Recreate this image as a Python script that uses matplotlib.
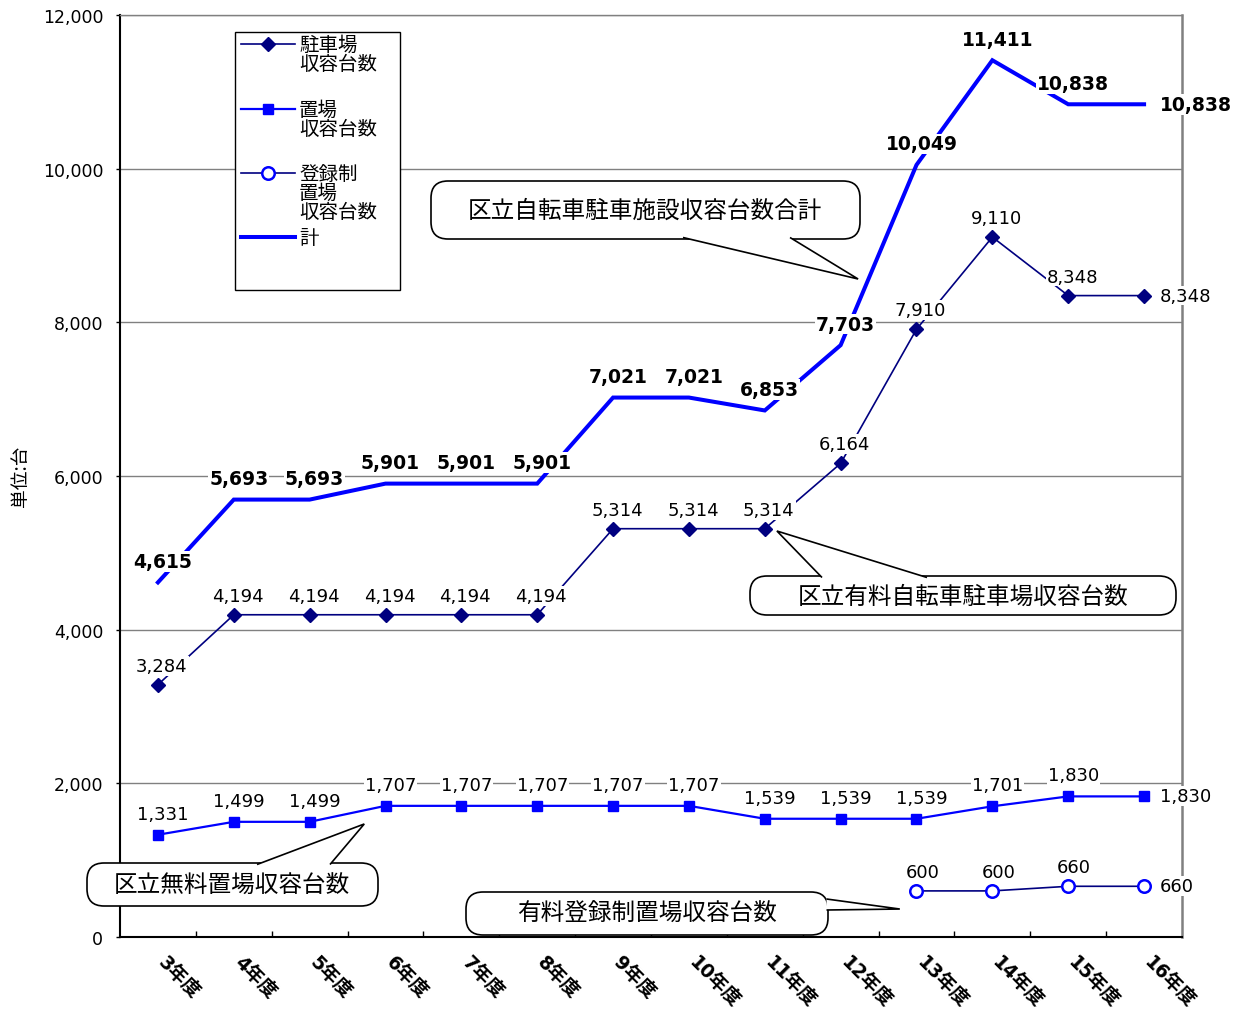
import matplotlib
matplotlib.use("Agg")
import matplotlib.pyplot as plt
import matplotlib.transforms as mtransforms
from matplotlib.patches import FancyBboxPatch, Polygon, Rectangle
from matplotlib.lines import Line2D
import numpy as np

# ---- data -------------------------------------------------------------
years = ["3年度", "4年度", "5年度", "6年度", "7年度", "8年度", "9年度",
         "10年度", "11年度", "12年度", "13年度", "14年度", "15年度", "16年度"]
parking = [3284, 4194, 4194, 4194, 4194, 4194, 5314, 5314, 5314, 6164,
           7910, 9110, 8348, 8348]
free_racks = [1331, 1499, 1499, 1707, 1707, 1707, 1707, 1707, 1539, 1539,
              1539, 1701, 1830, 1830]
registered = [np.nan] * 10 + [600, 600, 660, 660]
total = [4615, 5693, 5693, 5901, 5901, 5901, 7021, 7021, 6853, 7703,
         10049, 11411, 10838, 10838]
y_ticks = [0, 2000, 4000, 6000, 8000, 10000, 12000]

legend_labels = [["駐車場", "収容台数"], ["置場", "収容台数"],
                 ["登録制", "置場", "収容台数"], ["計"]]

NAVY = "#000080"
BLUE = "#0000FF"
GRID = "#808080"
NUM = ["DejaVu Sans", "Noto Sans CJK JP"]
JP = ["Noto Sans CJK JP", "DejaVu Sans"]

W, H = 1241, 1012
fig = plt.figure(figsize=(W / 100, H / 100), dpi=100)
ax = fig.add_axes([120 / W, 1 - 938 / H, (1182 - 120) / W, (938 - 16) / H])

x = np.arange(len(years))
ax.set_xlim(-0.5, len(years) - 0.5)
ax.set_ylim(0, 12000)

# ---- axes styling ------------------------------------------------------
ax.set_yticks(y_ticks)
ax.set_yticklabels([f"{v:,}" for v in y_ticks], family=NUM, fontsize=12.5)
ax.tick_params(axis="y", direction="out", length=3, width=1, pad=9)
ax.yaxis.grid(True, color=GRID, lw=1)
ax.set_axisbelow(True)

ax.set_xticks(np.arange(0.5, len(years) - 1, 1))
ax.set_xticklabels([])
ax.tick_params(axis="x", direction="in", length=4.5, width=1)

for s in ("left", "bottom"):
    ax.spines[s].set_color("black")
    ax.spines[s].set_linewidth(1.5)
ax.spines["top"].set_color(GRID)
ax.spines["top"].set_linewidth(1)
ax.spines["right"].set_color(GRID)
ax.spines["right"].set_linewidth(1.8)

# unit caption on the left
fig.text(21 / W, 1 - 476 / H, "単位:台", family=JP, fontsize=13.5,
         rotation=90, ha="center", va="center")

# category labels, rotated
lab_tr = ax.get_xaxis_transform() + mtransforms.ScaledTranslation(
    10 / 100, -15 / 100, fig.dpi_scale_trans)
for i, name in enumerate(years):
    ax.text(i, 0, name, transform=lab_tr, rotation=-45, rotation_mode="anchor",
            ha="left", va="top", family=NUM, fontsize=13.5, fontweight="bold",
            clip_on=False)

# ---- series -----------------------------------------------------------
ax.plot(x, total, color=BLUE, lw=2.9, zorder=3, solid_joinstyle="miter")
ax.plot(x, parking, color=NAVY, lw=1.2, marker="D", markersize=7.5,
        markerfacecolor=NAVY, markeredgecolor=NAVY, zorder=4)
ax.plot(x, free_racks, color=BLUE, lw=1.6, marker="s", markersize=6.5,
        markerfacecolor=BLUE, markeredgecolor=BLUE, zorder=4)
ax.plot(x, registered, color=NAVY, lw=1.2, marker="o", markersize=9,
        markerfacecolor="white", markeredgecolor=BLUE, markeredgewidth=1.8,
        zorder=4)


def value_labels(vals, dx, dy, bold=False):
    last = len(vals) - 1
    for i, v in enumerate(vals):
        if np.isnan(v):
            continue
        if i == last:
            off, ha, va = (16, 0), "left", "center"
        else:
            off, ha, va = (dx, dy), "center", "center"
        ax.annotate(f"{int(v):,}", (i, v), xytext=off, textcoords="offset pixels",
                    ha=ha, va=va, family=NUM, fontsize=13.5 if bold else 13,
                    fontweight="bold" if bold else "normal", color="black",
                    zorder=6, annotation_clip=False,
                    bbox=dict(fc="white", ec="none", pad=0.6))


value_labels(np.array(total, float), 5, 21, bold=True)
value_labels(np.array(parking, float), 4, 19)
value_labels(np.array(free_racks, float), 5, 21)
value_labels(np.array(registered, float), 6, 19)

# ---- legend box ---------------------------------------------------------
ident = mtransforms.IdentityTransform()


def P(px, py):
    return px, H - py


lx0, ly0, lx1, ly1 = 235, 33, 400, 291
fig.add_artist(Rectangle(P(lx0, ly1), lx1 - lx0, ly1 - ly0, transform=ident,
                         fc="white", ec="black", lw=1, zorder=5))
entry_y = [45, 110, 174, 238]
styles = [dict(color=NAVY, lw=1.2, marker="D", ms=7.5, mfc=NAVY, mec=NAVY),
          dict(color=BLUE, lw=1.6, marker="s", ms=6.5, mfc=BLUE, mec=BLUE),
          dict(color=NAVY, lw=1.2, marker="o", ms=9, mfc="white", mec=BLUE, mew=1.8),
          dict(color=BLUE, lw=2.9, marker=None)]
for ey, st, lines in zip(entry_y, styles, legend_labels):
    st = dict(st)
    mk = st.pop("marker")
    ms = st.pop("ms", None)
    mfc = st.pop("mfc", None)
    mec = st.pop("mec", None)
    mew = st.pop("mew", 1.0)
    xs, ys = zip(P(241, ey), P(295, ey))
    fig.add_artist(Line2D(xs, ys, transform=ident, zorder=6, **st))
    if mk:
        cx, cy = P(268, ey)
        fig.add_artist(Line2D([cx], [cy], transform=ident, marker=mk,
                              markersize=ms, markerfacecolor=mfc,
                              markeredgecolor=mec, markeredgewidth=mew,
                              linestyle="none", zorder=7))
    for k, t in enumerate(lines):
        tx, ty = P(299, ey + k * 19.5)
        fig.text(tx / W, ty / H, t, family=JP, fontsize=14, ha="left",
                 va="center", zorder=7)

# ---- callouts -----------------------------------------------------------


def callout(text, box, side, base, tip, text_xy):
    x0, y0, x1, y1 = box
    body = FancyBboxPatch(P(x0, y1), x1 - x0, y1 - y0,
                          boxstyle="round,pad=0,rounding_size=17",
                          transform=ident, fc="white", ec="black", lw=1.2,
                          zorder=8)
    fig.add_artist(body)
    inset = 1.5
    if side == "bottom":
        b1, b2 = P(base[0], y1 - inset), P(base[1], y1 - inset)
    elif side == "top":
        b1, b2 = P(base[0], y0 + inset), P(base[1], y0 + inset)
    else:
        b1, b2 = P(x1 - inset, base[0]), P(x1 - inset, base[1])
    tip_disp = tuple(ax.transData.transform(tip))
    fig.add_artist(Polygon([b1, tip_disp, b2], closed=False, transform=ident,
                           fc="white", ec="black", lw=1.2, zorder=9,
                           joinstyle="miter"))
    tx, ty = P(*text_xy)
    fig.text(tx / W, ty / H, text, family=JP, fontsize=17, ha="center",
             va="center", zorder=10)


callout("区立自転車駐車施設収容台数合計", (431, 182, 860, 240), "bottom",
        (683, 790), (9.23, 8564), (645, 211))
callout("区立有料自転車駐車場収容台数", (750, 577, 1176, 616), "top",
        (822, 927), (8.16, 5284), (963, 597))
callout("区立無料置場収容台数", (87, 864, 378, 907), "top",
        (257, 330), (2.72, 1471), (232, 886))
callout("有料登録制置場収容台数", (466, 893, 828, 936), "right",
        (900, 911), (9.78, 364), (647, 914))

fig.savefig("out.png", dpi=100)
